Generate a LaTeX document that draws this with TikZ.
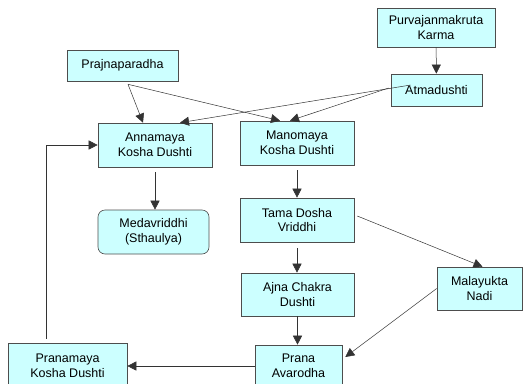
\documentclass[tikz,border=0pt]{standalone}
\usepackage{fontspec}
\setmainfont{Liberation Sans}
\usetikzlibrary{arrows.meta}
\definecolor{boxfill}{HTML}{CCFFFF}
\definecolor{boxline}{HTML}{4D4D4D}

\begin{document}
\begin{tikzpicture}[
        x=1pt, y=-1pt,
        every node/.style={draw=boxline, fill=boxfill, align=center, inner sep=0pt, line width=0.6pt, font=\fontsize{12.5}{14.5}\selectfont},
        arr/.style={-{Triangle[length=9pt,width=9pt]}, draw=black!80, line width=0.5pt}
        ]
        \useasboundingbox (0,0) rectangle (532,383);
        \clip (0,0) rectangle (532,383);
        % Nodes
        \node (purva) [minimum width=118pt, minimum height=39pt] at (436,27.5) {Purvajanmakruta\\Karma};
        \node (atma) [minimum width=91pt, minimum height=32pt] at (436.5,90) {Atmadushti};
        \node (prajna) [minimum width=111pt, minimum height=31pt] at (122.5,65.5) {Prajnaparadha};
        \node (anna) [minimum width=114pt, minimum height=44pt] at (155,145) {Annamaya\\Kosha Dushti};
        \node (mano) [minimum width=114pt, minimum height=44pt] at (297,143) {Manomaya\\Kosha Dushti};
        \node (meda) [minimum width=111pt, minimum height=44pt, rounded corners=7pt] at (153.5,232) {Medavriddhi\\(Sthaulya)};
        \node (tama) [minimum width=114pt, minimum height=44pt] at (297,220) {Tama Dosha\\Vriddhi};
        \node (ajna) [minimum width=113pt, minimum height=43pt] at (297.5,294.5) {Ajna Chakra\\Dushti};
        \node (mala) [minimum width=85pt, minimum height=43pt] at (479.5,288.5) {Malayukta\\Nadi};
        \node (prana) [minimum width=87pt, minimum height=42pt] at (298.5,366) {Prana\\Avarodha};
        \node (pranamaya) [minimum width=119pt, minimum height=46pt] at (67.5,366) {Pranamaya\\Kosha Dushti};

        % Arrows
        \draw[arr] (purva) -- (atma);
        \draw[arr] ([shift={(5.5,3)}]prajna.south) -- ([xshift=-12pt]anna.north);
        \draw[arr] ([shift={(5.5,3)}]prajna.south) -- ([xshift=-17pt]mano.north);
        \draw[arr] ([shift={(20,-5)}]atma.west) -- ([xshift=25pt]anna.north);
        \draw[arr] ([shift={(-2,-2)}]atma.west) -- ([xshift=-7pt]mano.north);
        \draw[arr, shorten <=5pt] (anna.south) -- (anna.south |- meda.north);
        \draw[arr, shorten <=5pt] (mano) -- (tama);
        \draw[arr, shorten <=6pt] (tama) -- (tama |- ajna.north);
        \draw[arr] (ajna.south) -- (ajna.south |- prana.north);
        \draw[arr] ([shift={(3,-4)}]tama.east) -- ([xshift=3pt]mala.north);
        \draw[arr] (mala.west) -- ([shift={(3,-9)}]prana.east);
        \draw[arr] (prana.west) -- (pranamaya.east);
        \draw[arr] ([shift={(-21.5,-4)}]pranamaya.north) |- (anna.west);
    \end{tikzpicture}
\end{document}
